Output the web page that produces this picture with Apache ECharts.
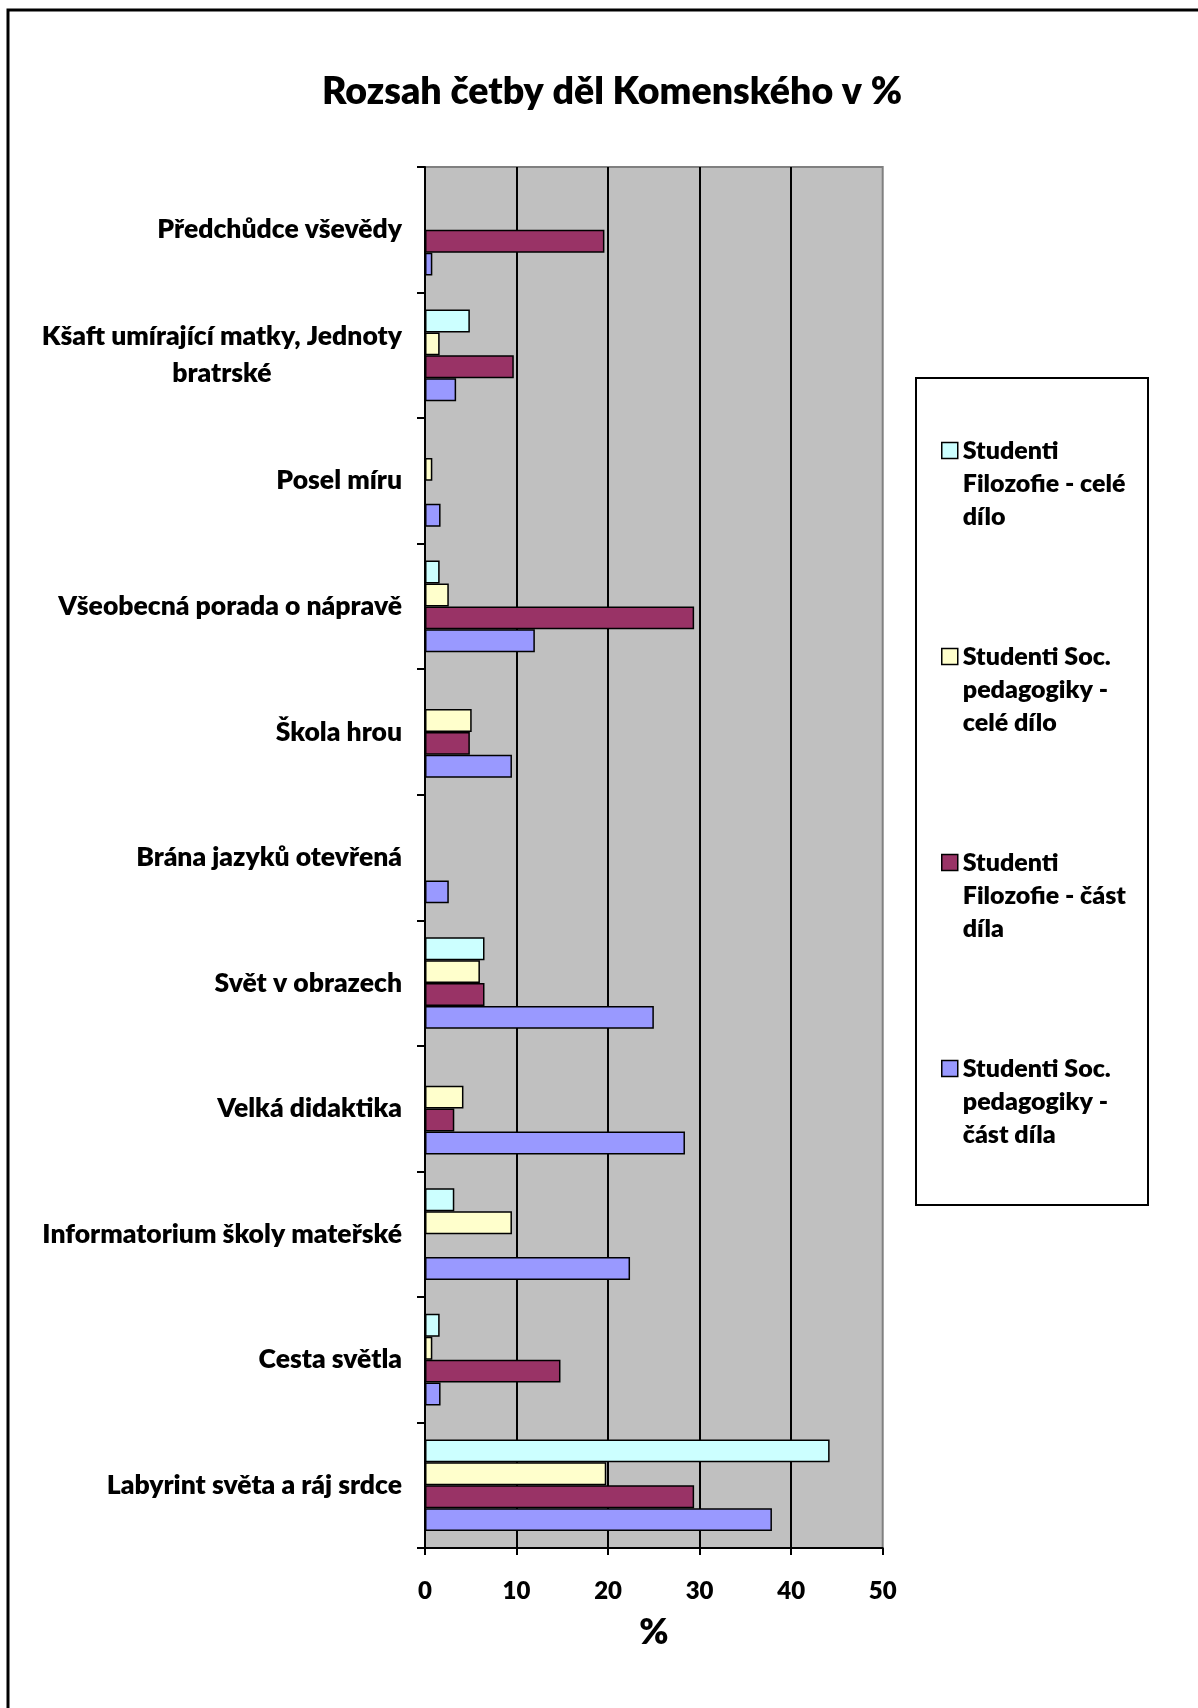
<!DOCTYPE html>
<html>
<head>
<meta charset="utf-8">
<title>Rozsah četby děl Komenského v %</title>
<script src="https://cdn.jsdelivr.net/npm/echarts@6/dist/echarts.min.js"></script>
<style>
  html, body { margin: 0; padding: 0; background: #ffffff; }
  #chart { width: 1198px; height: 1708px; }
</style>
</head>
<body>
<div id="chart"></div>
<script>
// Díla Komenského (shora dolů)
const categories = [
  'Předchůdce vševědy',
  'Kšaft umírající matky, Jednoty\nbratrské',
  'Posel míru',
  'Všeobecná porada o nápravě',
  'Škola hrou',
  'Brána jazyků otevřená',
  'Svět v obrazech',
  'Velká didaktika',
  'Informatorium školy mateřské',
  'Cesta světla',
  'Labyrint světa a ráj srdce'
];

// Názvy skupin respondentů (legenda)
const seriesNames = [
  'Studenti\nFilozofie - celé\ndílo',
  'Studenti Soc.\npedagogiky -\ncelé dílo',
  'Studenti\nFilozofie - část\ndíla',
  'Studenti Soc.\npedagogiky -\nčást díla'
];

// Podíly čtenářů v %
const filozofieCele = [0, 4.9, 0, 1.6, 0, 0, 6.5, 0, 3.2, 1.6, 44.2];
const socPedCele    = [0, 1.6, 0.8, 2.6, 5.1, 0, 6.0, 4.2, 9.5, 0.8, 19.8];
const filozofieCast = [19.6, 9.7, 0, 29.4, 4.9, 0, 6.5, 3.2, 0, 14.8, 29.4];
const socPedCast    = [0.8, 3.4, 1.7, 12.0, 9.5, 2.6, 25.0, 28.4, 22.4, 1.7, 37.9];

const xTicks = [0, 10, 20, 30, 40, 50];

const seriesValues = [filozofieCele, socPedCele, filozofieCast, socPedCast];
const seriesColors = ['#CCFFFF', '#FFFFCC', '#993366', '#9999FF'];

const FONT = 'Lato';
const WEIGHT = 800;

const chart = echarts.init(document.getElementById('chart'), null, { renderer: 'canvas' });

const option = {
  backgroundColor: '#ffffff',
  animation: false,
  title: {
    text: 'Rozsah četby děl Komenského v %',
    left: 607,
    top: 68,
    textAlign: 'center',
    textStyle: { fontFamily: FONT, fontWeight: WEIGHT, fontSize: 37.5, color: '#000' }
  },
  graphic: [
    {
      // outer frame
      type: 'rect',
      shape: { x: 8, y: 10, width: 1220, height: 1730 },
      style: { fill: 'none', stroke: '#000', lineWidth: 3 },
      silent: true
    },
    {
      // legend frame
      type: 'rect',
      shape: { x: 916, y: 378, width: 232, height: 827 },
      style: { fill: '#fff', stroke: '#000', lineWidth: 2 },
      silent: true,
      z: -1
    }
  ],
  legend: {
    orient: 'vertical',
    left: 936,
    top: 363,
    itemWidth: 16,
    itemHeight: 16,
    itemGap: 41,
    icon: 'rect',
    itemStyle: { borderColor: '#000', borderWidth: 1.5 },
    // two empty lines in front keep the first line level with the colour box
    formatter: function (name) { return '\n\n' + name; },
    textStyle: {
      fontFamily: FONT, fontWeight: WEIGHT, fontSize: 25, color: '#000',
      lineHeight: 33
    },
    data: seriesNames
  },
  grid: {
    left: 425,
    top: 167,
    width: 457.7,
    height: 1381,
    show: true,
    backgroundColor: '#C0C0C0',
    borderColor: '#808080',
    borderWidth: 2,
    containLabel: false
  },
  xAxis: {
    type: 'value',
    min: xTicks[0],
    max: xTicks[xTicks.length - 1],
    interval: xTicks[1] - xTicks[0],
    name: '%',
    nameLocation: 'middle',
    nameGap: 67,
    nameTextStyle: { fontFamily: FONT, fontWeight: WEIGHT, fontSize: 35, color: '#000' },
    axisLine: { show: true, lineStyle: { color: '#000', width: 2 } },
    axisTick: { show: true, length: 7, lineStyle: { color: '#000', width: 2 } },
    axisLabel: { margin: 31, fontFamily: FONT, fontWeight: WEIGHT, fontSize: 24, color: '#000' },
    splitLine: { show: true, showMinLine: false, showMaxLine: false, lineStyle: { color: '#000', width: 2 } }
  },
  yAxis: {
    type: 'category',
    inverse: true,
    data: categories,
    axisLine: { show: true, lineStyle: { color: '#000', width: 2 } },
    axisTick: { show: true, length: 8, lineStyle: { color: '#000', width: 2 } },
    axisLabel: {
      margin: 23,
      formatter: function (v) {
        return v.split('\n').map(function (l) { return '{c|' + l + '}'; }).join('\n');
      },
      rich: {
        c: { align: 'center', fontFamily: FONT, fontWeight: WEIGHT, fontSize: 26.5, color: '#000', lineHeight: 37 }
      }
    },
    splitLine: { show: false }
  },
  series: seriesNames.map(function (name, i) {
    return {
      name: name,
      type: 'bar',
      data: seriesValues[i],
      barGap: '0%',
      barCategoryGap: '27%',
      itemStyle: { color: seriesColors[i], borderColor: '#000', borderWidth: 1.5 }
    };
  })
};

chart.setOption(option);
</script>
</body>
</html>
